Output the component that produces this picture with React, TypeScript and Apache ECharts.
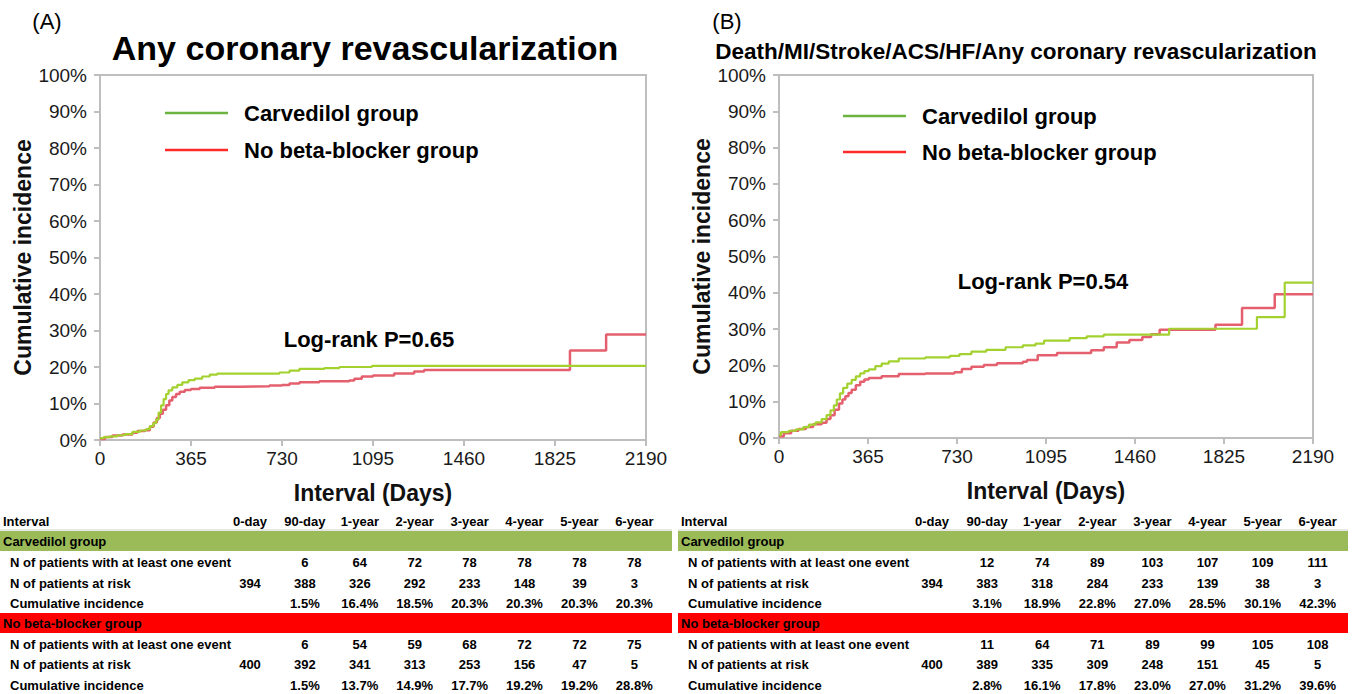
import React, { useEffect, useRef } from "react";
import * as echarts from "echarts";

// ---------- data ----------
const carvedilolA: [number, number][] = [
  [0, 0.5], [15, 0.8], [40, 1.0], [70, 1.3], [100, 1.6], [130, 2.2], [160, 2.6], [185, 3.0],
  [200, 3.8], [214, 4.6], [225, 5.6], [235, 7.5], [245, 9.5], [255, 11.2], [265, 12.6],
  [275, 13.6], [290, 14.4], [310, 15.1], [330, 15.8], [355, 16.4], [380, 16.8], [410, 17.4],
  [440, 17.9], [470, 18.2], [720, 18.5], [760, 19.0], [800, 19.5], [900, 19.7], [960, 20.0],
  [1090, 20.3], [2190, 20.3],
];
const noBetaA: [number, number][] = [
  [0, 0.3], [20, 0.8], [50, 1.2], [90, 1.5], [130, 2.0], [150, 2.5], [180, 2.7], [200, 3.6],
  [215, 4.8], [228, 6.0], [240, 7.2], [252, 8.3], [265, 9.5], [278, 10.8], [290, 11.8],
  [305, 12.6], [320, 13.2], [340, 13.7], [365, 14.0], [400, 14.3], [460, 14.6], [560, 14.7],
  [680, 14.9], [730, 15.1], [760, 15.5], [800, 15.8], [880, 16.1], [1000, 16.3], [1020, 16.8],
  [1050, 17.4], [1095, 17.7], [1180, 18.2], [1260, 18.8], [1300, 19.2], [1885, 24.5],
  [2030, 28.9], [2190, 28.9],
];
const carvedilolB: [number, number][] = [
  [0, 0.8], [8, 1.6], [40, 2.0], [70, 2.4], [100, 3.0], [123, 3.7], [150, 4.3], [175, 5.2],
  [195, 6.3], [211, 7.6], [225, 9.0], [237, 10.6], [250, 12.3], [263, 13.8], [280, 15.0],
  [298, 16.0], [315, 17.0], [333, 17.8], [350, 18.4], [368, 18.9], [395, 19.8], [421, 20.5],
  [450, 21.1], [491, 21.9], [600, 22.2], [700, 22.6], [740, 23.1], [789, 23.8], [850, 24.3],
  [929, 25.0], [1000, 25.5], [1052, 26.0], [1087, 26.8], [1192, 27.5], [1262, 28.0],
  [1332, 28.5], [1600, 30.1], [1960, 33.3], [2074, 42.8], [2190, 42.8],
];
const noBetaB: [number, number][] = [
  [0, 0.5], [20, 1.3], [50, 2.0], [80, 2.5], [110, 3.0], [140, 3.8], [175, 4.2], [195, 5.2],
  [211, 6.3], [228, 7.8], [246, 9.5], [260, 10.6], [272, 11.5], [285, 12.4], [298, 13.3],
  [315, 14.5], [333, 15.5], [350, 16.1], [368, 16.5], [421, 17.0], [491, 17.6], [600, 17.8],
  [719, 18.1], [750, 19.0], [789, 19.6], [840, 20.1], [894, 20.6], [1000, 21.0], [1017, 21.5],
  [1061, 22.8], [1140, 23.4], [1280, 24.2], [1332, 25.0], [1385, 26.3], [1437, 27.0],
  [1490, 27.8], [1526, 28.6], [1561, 29.8], [1790, 31.2], [1899, 35.8], [2033, 39.6],
  [2190, 39.6],
];

const intervals = ["0-day", "90-day", "1-year", "2-year", "3-year", "4-year", "5-year", "6-year"];
const rowLabels = ["N of patients with at least one event", "N of patients at risk", "Cumulative incidence"];
const groupNames = ["Carvedilol group", "No beta-blocker group"];

const carvEventsA = ["", "6", "64", "72", "78", "78", "78", "78"];
const carvRiskA = ["394", "388", "326", "292", "233", "148", "39", "3"];
const carvCumA = ["", "1.5%", "16.4%", "18.5%", "20.3%", "20.3%", "20.3%", "20.3%"];
const noBetaEventsA = ["", "6", "54", "59", "68", "72", "72", "75"];
const noBetaRiskA = ["400", "392", "341", "313", "253", "156", "47", "5"];
const noBetaCumA = ["", "1.5%", "13.7%", "14.9%", "17.7%", "19.2%", "19.2%", "28.8%"];

const carvEventsB = ["", "12", "74", "89", "103", "107", "109", "111"];
const carvRiskB = ["394", "383", "318", "284", "233", "139", "38", "3"];
const carvCumB = ["", "3.1%", "18.9%", "22.8%", "27.0%", "28.5%", "30.1%", "42.3%"];
const noBetaEventsB = ["", "11", "64", "71", "89", "99", "105", "108"];
const noBetaRiskB = ["400", "389", "335", "309", "248", "151", "45", "5"];
const noBetaCumB = ["", "2.8%", "16.1%", "17.8%", "23.0%", "27.0%", "31.2%", "39.6%"];

// ---------- styles ----------
const FONT = '"Liberation Sans", Arial, sans-serif';
const AXIS_GRAY = "#BEBEBE";
const GREEN_LINE = "#A3D12F";
const RED_LINE = "#E5606E";
const GREEN_LEG = "#6DB33F";
const RED_LEG = "#FF2B2B";
const BAND_GREEN = "#9BBB59";
const BAND_RED = "#FF0000";

function axisPair(gridIndex: number) {
  const x = {
    gridIndex,
    type: "value",
    min: 0,
    max: 2190,
    interval: 365,
    name: "Interval (Days)",
    nameLocation: "middle",
    nameGap: 41,
    nameTextStyle: { fontFamily: FONT, fontSize: 23, fontWeight: "bold", color: "#111" },
    axisLine: { show: true, lineStyle: { color: AXIS_GRAY, width: 2 } },
    axisTick: { show: true, length: 6, lineStyle: { color: AXIS_GRAY, width: 2 } },
    axisLabel: {
      fontFamily: FONT,
      fontSize: 19,
      color: "#1a1a1a",
      margin: 9,
      formatter: (v: number) => String(v),
    },
    splitLine: { show: false },
  };
  const y = {
    gridIndex,
    type: "value",
    min: 0,
    max: 100,
    interval: 10,
    name: "Cumulative incidence",
    nameLocation: "middle",
    nameGap: 64,
    nameTextStyle: { fontFamily: FONT, fontSize: 23, fontWeight: "bold", color: "#111" },
    axisLine: { show: true, lineStyle: { color: AXIS_GRAY, width: 2 } },
    axisTick: { show: true, length: 6, lineStyle: { color: AXIS_GRAY, width: 2 } },
    axisLabel: { fontFamily: FONT, fontSize: 19, color: "#1a1a1a", margin: 13, formatter: "{value}%" },
    splitLine: { show: false },
  };
  return { x, y };
}

function txt(x: number, y: number, text: string, font: string, align = "left", fill = "#000") {
  return {
    type: "text",
    x,
    y,
    silent: true,
    style: { text, font, fill, align, verticalAlign: "middle" },
  };
}

function legend(x0: number, y1: number, y2: number) {
  const f = `bold 22px ${FONT}`;
  return [
    { type: "line", shape: { x1: x0, y1, x2: x0 + 63, y2: y1 }, style: { stroke: GREEN_LEG, lineWidth: 2.5 } },
    { type: "line", shape: { x1: x0, y1: y2, x2: x0 + 63, y2 }, style: { stroke: RED_LEG, lineWidth: 2.5 } },
    txt(x0 + 79, y1, groupNames[0], f),
    txt(x0 + 79, y2, groupNames[1], f),
  ];
}

function table(
  x0: number,
  bandW: number,
  col0: number,
  colStep: number,
  labelX: number,
  groups: string[][][],
) {
  const f = `bold 13px ${FONT}`;
  const els: any[] = [];
  els.push({ type: "line", shape: { x1: x0, y1: 530, x2: x0 + bandW, y2: 530 }, style: { stroke: "#D0D0D0", lineWidth: 1 } });
  els.push(txt(x0 + 3, 521, "Interval", f));
  intervals.forEach((h, i) => els.push(txt(col0 + colStep * i, 521, h, f, "center")));
  const bandY = [531, 613];
  const rowY = [
    [562, 583, 603],
    [644, 664, 685],
  ];
  const colors = [BAND_GREEN, BAND_RED];
  groups.forEach((rows, g) => {
    els.push({ type: "rect", shape: { x: x0, y: bandY[g], width: bandW, height: 20 }, style: { fill: colors[g] } });
    els.push(txt(x0 + 3, bandY[g] + 10, groupNames[g], f));
    rows.forEach((vals, r) => {
      els.push(txt(labelX, rowY[g][r], rowLabels[r], f));
      vals.forEach((v, i) => {
        if (v) els.push(txt(col0 + colStep * i, rowY[g][r], v, f, "center"));
      });
    });
  });
  return els;
}

export default function App() {
  const ref = useRef<HTMLDivElement>(null);
  useEffect(() => {
    if (!ref.current) return;
    const chart = echarts.init(ref.current, undefined, { renderer: "svg" });
    const a = axisPair(0);
    const b = axisPair(1);
    const lineSeries = (name: string, data: [number, number][], idx: number, color: string, w: number) => ({
      name,
      type: "line",
      xAxisIndex: idx,
      yAxisIndex: idx,
      step: "end",
      data,
      symbol: "none",
      showSymbol: false,
      lineStyle: { color, width: w },
      z: color === GREEN_LINE ? 3 : 2,
    });
    chart.setOption({
      animation: false,
      backgroundColor: "#fff",
      grid: [
        { left: 100, top: 75, width: 546, height: 365, show: true, borderColor: AXIS_GRAY, borderWidth: 2, backgroundColor: "transparent" },
        { left: 779, top: 75, width: 534, height: 363, show: true, borderColor: AXIS_GRAY, borderWidth: 2, backgroundColor: "transparent" },
      ],
      xAxis: [a.x, b.x],
      yAxis: [a.y, b.y],
      series: [
        lineSeries("No beta-blocker group A", noBetaA, 0, RED_LINE, 2.5),
        lineSeries("Carvedilol group A", carvedilolA, 0, GREEN_LINE, 2.2),
        lineSeries("No beta-blocker group B", noBetaB, 1, RED_LINE, 2.5),
        lineSeries("Carvedilol group B", carvedilolB, 1, GREEN_LINE, 2.2),
      ],
      graphic: [
        txt(47, 21, "(A)", `22px ${FONT}`, "center"),
        txt(727, 21, "(B)", `22px ${FONT}`, "center"),
        txt(365, 48, "Any coronary revascularization", `bold 34px ${FONT}`, "center"),
        txt(1016, 51, "Death/MI/Stroke/ACS/HF/Any coronary revascularization", `bold 22.5px ${FONT}`, "center"),
        ...legend(165, 113, 150),
        ...legend(843, 116, 152),
        txt(369, 339, "Log-rank P=0.65", `bold 22px ${FONT}`, "center"),
        txt(1043, 281, "Log-rank P=0.54", `bold 22px ${FONT}`, "center"),
        ...table(0, 672, 250, 54.9, 10, [
          [carvEventsA, carvRiskA, carvCumA],
          [noBetaEventsA, noBetaRiskA, noBetaCumA],
        ]),
        ...table(678, 670, 932, 55.1, 688, [
          [carvEventsB, carvRiskB, carvCumB],
          [noBetaEventsB, noBetaRiskB, noBetaCumB],
        ]),
      ],
    });
    return () => chart.dispose();
  }, []);
  return (
    <div
      ref={ref}
      style={{ position: "absolute", left: 0, top: 0, width: 1354, height: 694, background: "#fff" }}
    />
  );
}
